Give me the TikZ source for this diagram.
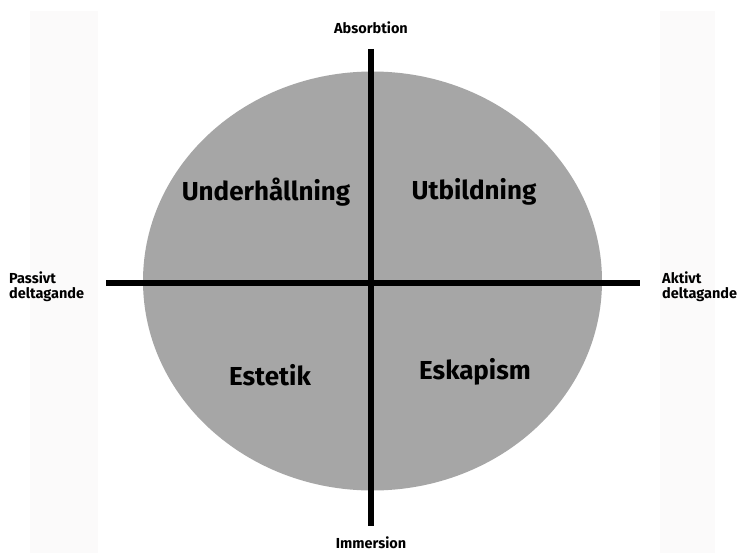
\documentclass[tikz,border=0pt]{standalone}
\usepackage{fontspec}
\setmainfont{Fira Sans}
\newfontfamily\labfont{Fira Sans}[UprightFont=* Bold]
\definecolor{ellgray}{HTML}{A6A6A6}
\definecolor{stripcol}{HTML}{FBFAFA}
\begin{document}
\begin{tikzpicture}[x=1pt,y=-1pt,
  axis/.style={line width=6pt},
  biglab/.style={font=\labfont\fontsize{26}{28}\selectfont, inner sep=0pt},
  smalllab/.style={font=\labfont\fontsize{14.5}{15}\selectfont, inner sep=0pt, align=left}]
\useasboundingbox (0,0) rectangle (738,553);
\fill[white] (0,0) rectangle (738,553);
\fill[stripcol] (30,11) rectangle (98,553);
\fill[stripcol] (660,11) rectangle (715,553);
\fill[ellgray] (372.5,281) ellipse [x radius=229.5, y radius=209.5];
\coordinate (top) at (370.5,49);
\coordinate (bot) at (370.5,526);
\coordinate (lft) at (106,282.5);
\coordinate (rgt) at (640,282.5);
\draw[axis] (top) -- (bot);
\draw[axis] (lft) -- (rgt);
\node[smalllab] (abs) at (371,28) {Absorbtion};
\node[smalllab] (imm) at (371,543) {Immersion};
\node[smalllab, anchor=west] (pas) at (9,287) {Passivt\\deltagande};
\node[smalllab, anchor=west] (akt) at (662,287) {Aktivt\\deltagande};
\node[biglab] (und) at (266,192) {Underhållning};
\node[biglab] (utb) at (474,192) {Utbildning};
\node[biglab] (est) at (270,375) {Estetik};
\node[biglab] (esk) at (475,372) {Eskapism};
\end{tikzpicture}
\end{document}
